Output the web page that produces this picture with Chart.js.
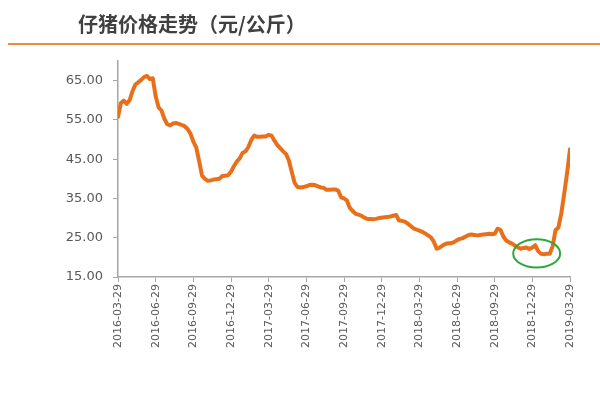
<!DOCTYPE html>
<html>
<head>
<meta charset="utf-8">
<script src="https://cdn.jsdelivr.net/npm/chart.js@4.4.1/dist/chart.umd.min.js"></script>
<style>
  body { margin: 0; background: #fff; }
  canvas { display: block; }
</style>
</head>
<body>
<canvas id="price-chart" width="600" height="403"></canvas>
<script>
// weekly piglet price, week 0 = 2016-03-29
var quarterLabels = ["2016-03-29", "2016-06-29", "2016-09-29", "2016-12-29",
    "2017-03-29", "2017-06-29", "2017-09-29", "2017-12-29",
    "2018-03-29", "2018-06-29", "2018-09-29", "2018-12-29", "2019-03-29"];

var yTicks = [15, 25, 35, 45, 55, 65];

var prices = [
    55.8, 59.3, 59.9, 59.1, 60.0, 62.3, 64.0, 64.6, 65.2, 65.9, 66.2, 65.4, 65.6,
    61.0, 58.2, 57.4, 55.3, 53.9, 53.6, 54.1, 54.2, 54.0, 53.7, 53.4, 52.7, 51.5,
    49.5, 48.0, 44.5, 40.8, 40.0, 39.5, 39.6, 39.8, 39.9, 40.0, 40.7, 40.8, 40.9,
    41.8, 43.2, 44.4, 45.2, 46.6, 47.0, 48.1, 49.9, 51.0, 50.7, 50.7, 50.8, 50.8,
    51.2, 51.0, 49.7, 48.6, 47.8, 47.0, 46.3, 44.6, 41.7, 38.9, 37.9, 37.8, 37.9,
    38.1, 38.4, 38.5, 38.4, 38.1, 37.8, 37.7, 37.2, 37.2, 37.3, 37.3, 37.0, 35.3,
    35.0, 34.5, 32.6, 31.8, 31.1, 30.9, 30.6, 30.1, 29.8, 29.8, 29.7, 29.8, 30.0,
    30.1, 30.2, 30.3, 30.4, 30.6, 30.8, 29.4, 29.3, 29.1, 28.6, 28.0, 27.4, 27.1,
    26.8, 26.5, 26.1, 25.6, 25.1, 24.0, 22.2, 22.5, 23.0, 23.4, 23.6, 23.6, 23.9,
    24.4, 24.7, 24.9, 25.3, 25.7, 25.8, 25.7, 25.6, 25.7, 25.8, 25.9, 26.0, 25.9,
    26.0, 27.3, 27.0, 25.3, 24.3, 23.8, 23.5, 23.0, 22.6, 22.2, 22.4, 22.5, 22.1,
    22.5, 23.1, 21.6, 20.9, 20.8, 20.9, 20.9, 22.8, 26.9, 27.6, 31.2, 36.2, 41.5,
    47.5
];

// green ring around the winter low (week, price, half-width in weeks, half-height in price)
var ring = { week: 144.5, price: 21.0, rx: 8.1, ry: 3.6 };

var axisGray = "#a6a6a6";
var labelGray = "#595959";

let points = prices.map(function (p, i) { return { x: i, y: p }; });

let headerPlugin = {
    id: "header",
    afterDraw: function (chart) {
        let ctx = chart.ctx;
        ctx.save();
        ctx.fillStyle = "#404040";
        ctx.font = "bold 20px 'Noto Sans CJK SC'";
        ctx.textBaseline = "middle";
        ctx.fillText("仔猪价格走势（元/公斤）", 78, 24);
        ctx.strokeStyle = "#f08a3c";
        ctx.lineWidth = 2;
        ctx.beginPath();
        ctx.moveTo(8, 44);
        ctx.lineTo(600, 44);
        ctx.stroke();

        let xs = chart.scales.x, ys = chart.scales.y;
        let cx = xs.getPixelForValue(ring.week);
        let cy = ys.getPixelForValue(ring.price);
        let rx = xs.getPixelForValue(ring.week + ring.rx) - cx;
        let ry = ys.getPixelForValue(ring.price - ring.ry) - cy;
        ctx.strokeStyle = "#2ea83a";
        ctx.lineWidth = 2;
        ctx.beginPath();
        ctx.ellipse(cx, cy, rx, ry, 0, 0, Math.PI * 2);
        ctx.stroke();
        ctx.restore();
    }
};

let chartData = {
    datasets: [{
        label: "仔猪价格",
        data: points,
        borderColor: "#e8701a",
        borderWidth: 4,
        borderJoinStyle: "round",
        borderCapStyle: "round",
        fill: false,
        tension: 0
    }]
};

let chartOptions = {
    responsive: false,
    animation: false,
    layout: {
        padding: { left: 0, right: 30, top: 61, bottom: 0 }
    },
    plugins: {
        legend: { display: false },
        tooltip: { enabled: false }
    },
    elements: {
        point: { radius: 0 }
    },
    scales: {
        x: {
            type: "linear",
            min: 0,
            max: 156,
            afterBuildTicks: function (scale) {
                scale.ticks = quarterLabels.map(function (l, i) { return { value: i * 13 }; });
            },
            afterFit: function (scale) { scale.height = 126; },
            grid: { drawOnChartArea: false, color: axisGray, tickLength: 5 },
            border: { color: axisGray, width: 1.5 },
            ticks: {
                autoSkip: false,
                minRotation: 90,
                maxRotation: 90,
                padding: 2,
                color: labelGray,
                font: { family: "DejaVu Sans", size: 11 },
                callback: function (value, index) { return quarterLabels[index]; }
            }
        },
        y: {
            min: 15,
            max: 70,
            afterBuildTicks: function (scale) {
                scale.ticks = yTicks.map(function (v) { return { value: v }; });
            },
            afterFit: function (scale) { scale.width = 118; },
            grid: { drawOnChartArea: false, color: axisGray, tickLength: 5 },
            border: { color: axisGray, width: 1.5 },
            ticks: {
                padding: 10,
                color: labelGray,
                font: { family: "DejaVu Sans", size: 13 },
                callback: function (value) { return value.toFixed(2); }
            }
        }
    }
};

let ctx = document.getElementById("price-chart").getContext("2d");
let priceChart = new Chart(ctx, {
    type: "line",
    data: chartData,
    options: chartOptions,
    plugins: [headerPlugin]
});
</script>
</body>
</html>
